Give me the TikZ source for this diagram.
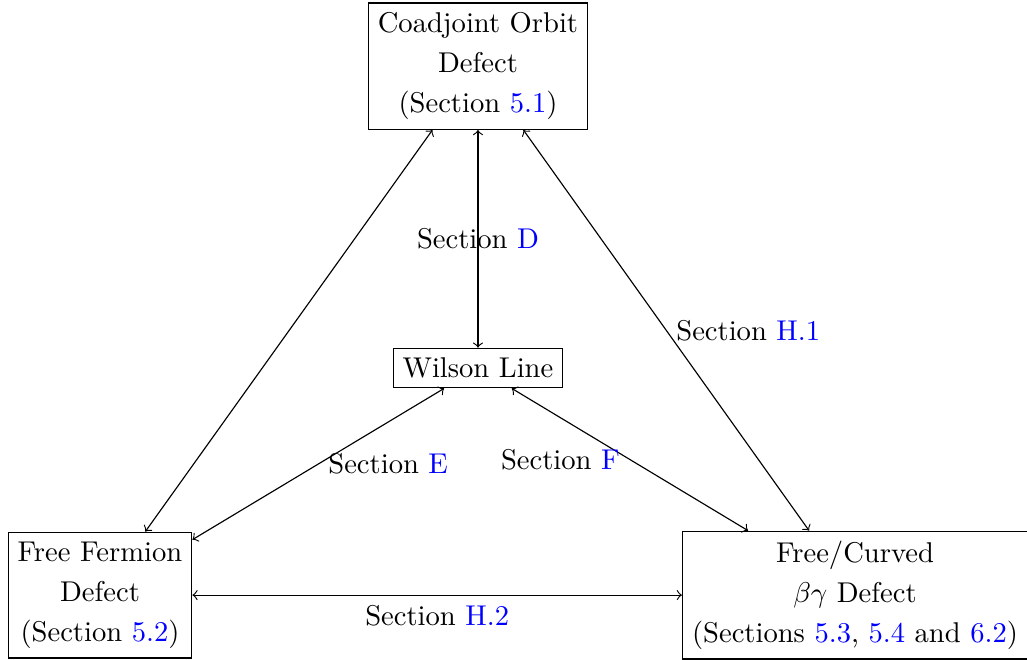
\documentclass[tikz,border=0pt]{standalone}
\usepackage{xcolor}
\usetikzlibrary{positioning}
\begin{document}
\begin{tikzpicture}[box/.style={rectangle,draw,align=center,font=\fontsize{10}{14}\selectfont},
	on grid,>=to]
	\useasboundingbox (-5.874,-3.576) rectangle (6.747,4.523);
	\node[box] (wl) at (0,0) {Wilson Line};
	\node[box] (co) [above=3.71cm of wl] {Coadjoint Orbit\\Defect\\(Section \textcolor{blue}{5.1})};
	\node[box] (ff) [below left=2.79cm and 4.645cm of wl] {Free Fermion\\Defect\\(Section \textcolor{blue}{5.2})};
	\node[box] (bg) [below right=2.79cm and 4.633cm of wl] {Free/Curved\\$\beta\gamma$ Defect\\(Sections \textcolor{blue}{5.3}, \textcolor{blue}{5.4} and \textcolor{blue}{6.2})};
	
	\path[<->] (co) edge node {Section \textcolor{blue}{D}} (wl)
	edge (ff)
	edge node[right] {Section \textcolor{blue}{H.1}} (bg);
	\path[<->] (wl) edge node[right] {Section \textcolor{blue}{E}} (ff)
	edge node[left] {Section \textcolor{blue}{F}} (bg);
	\path[<->] (ff) edge node[below] {Section \textcolor{blue}{H.2}} (bg);
\end{tikzpicture}
\end{document}
